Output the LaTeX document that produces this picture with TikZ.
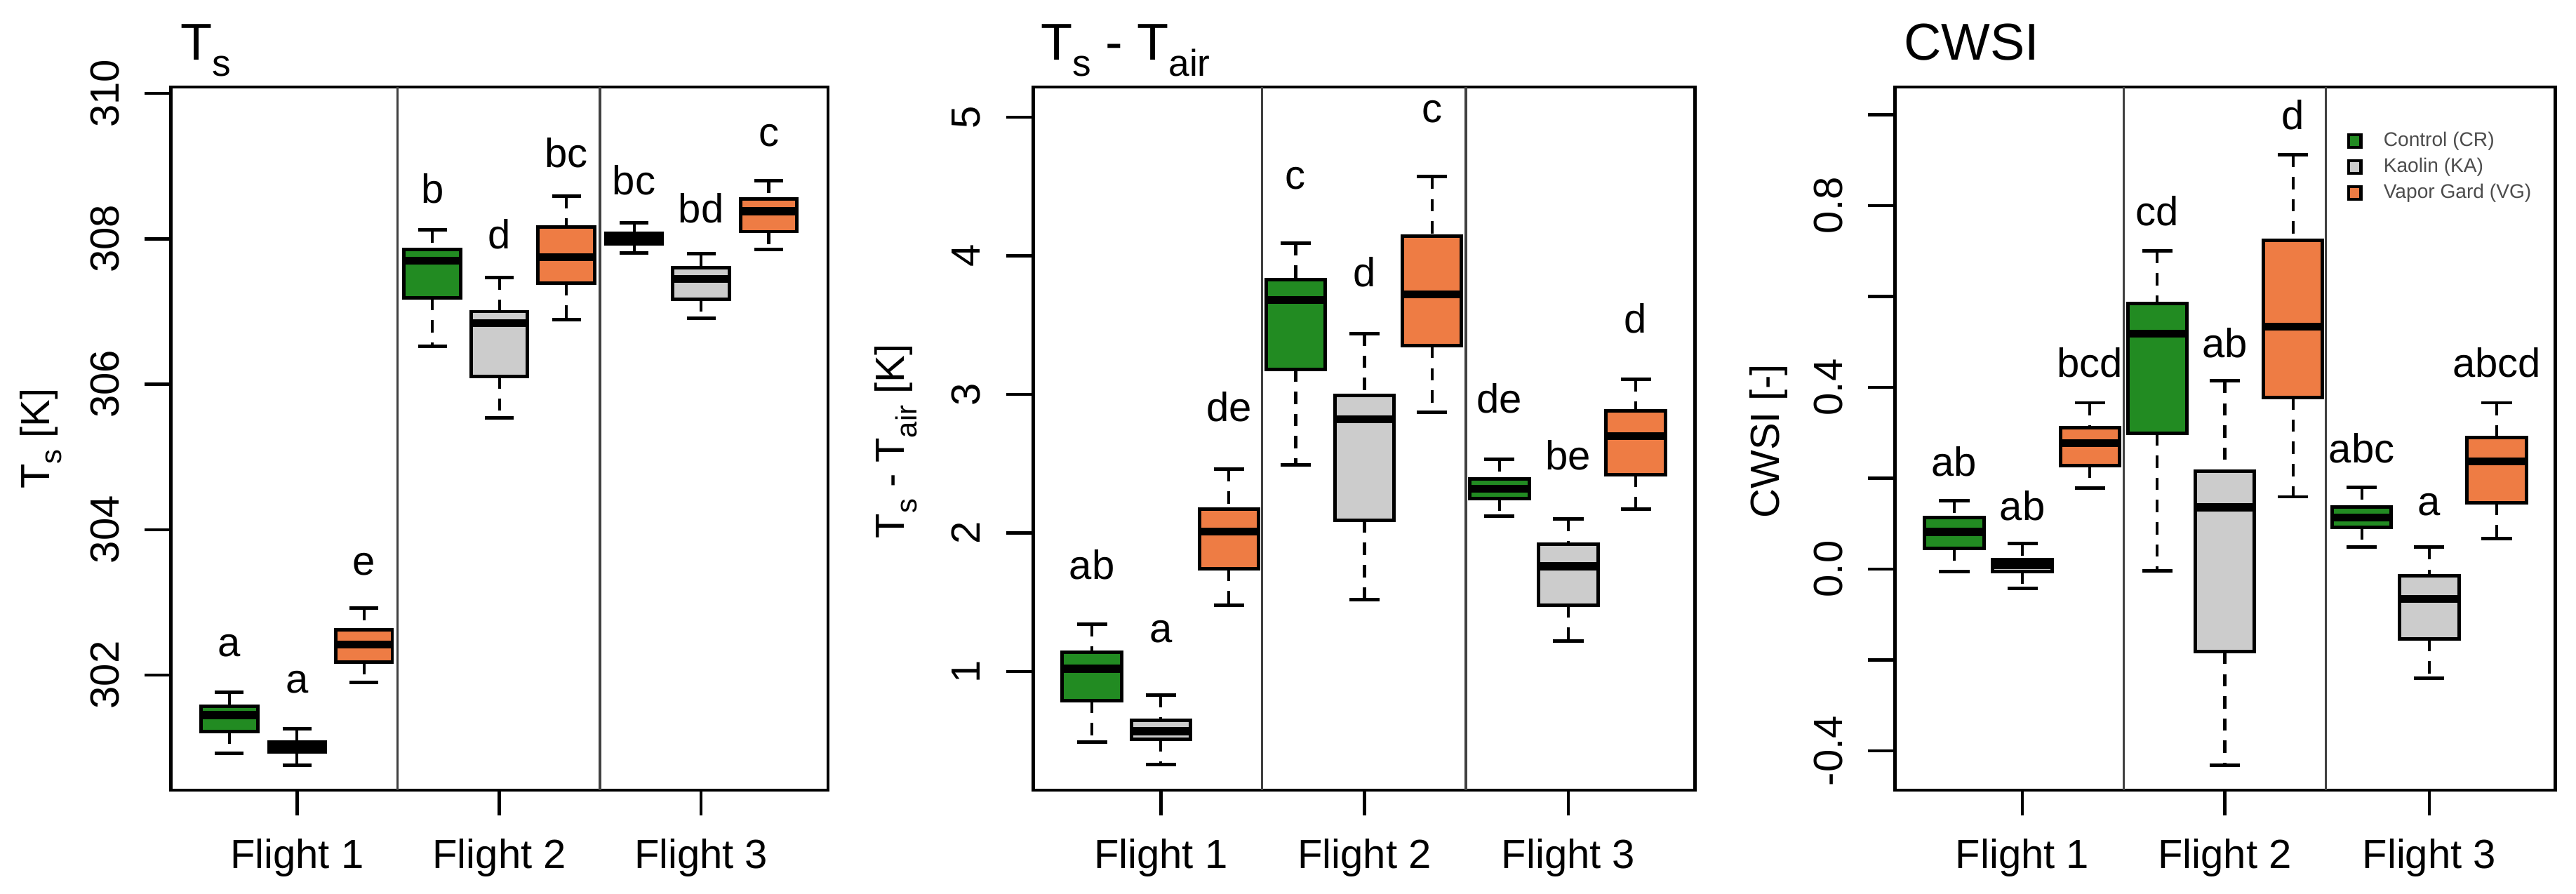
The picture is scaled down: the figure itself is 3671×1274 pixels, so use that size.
\documentclass[tikz,border=0pt]{standalone}
\usepackage{fontspec}
\setmainfont{Liberation Sans}
\definecolor{cgreen}{RGB}{34,139,34}
\definecolor{cgrey}{RGB}{204,204,204}
\definecolor{corange}{RGB}{238,124,68}
\newcommand\sbs[1]{\raisebox{-0.3em}{\fontsize{0.72em}{0.8em}\selectfont #1}}
\newcommand\yy[1]{\A-(#1-\Vo)*\B}
\newcommand\bxp[9]{%
  \draw[whisk] (#1,{\yy{#6}}) -- (#1,{\yy{#5}});
  \draw[whisk] (#1,{\yy{#3}}) -- (#1,{\yy{#2}});
  \draw[capl] ({#1-22},{\yy{#6}}) -- ({#1+22},{\yy{#6}});
  \draw[capl] ({#1-22},{\yy{#2}}) -- ({#1+22},{\yy{#2}});
  \draw[boxl,fill=#7] ({#1-43},{\yy{#3}}) rectangle ({#1+43},{\yy{#5}});
  \draw[medl] ({#1-43},{\yy{#4}}) -- ({#1+43},{\yy{#4}});
  \node[lab] at (#1,{\yy{#9}}) {#8};}
\tikzset{
  whisk/.style={line width=1.2pt,dash pattern=on 5pt off 4pt},
  capl/.style={line width=1.4pt},
  boxl/.style={line width=1.4pt},
  medl/.style={line width=3.2pt},
  lab/.style={font=\fontsize{16.5}{18}\selectfont},
  tickl/.style={font=\fontsize{16.5}{18}\selectfont,rotate=90},
  frame/.style={line width=1.3pt},
  divl/.style={line width=1pt,black!75},
  ttl/.style={font=\fontsize{21}{24}\selectfont,anchor=base west},
  leg/.style={font=\fontsize{8}{9}\selectfont,anchor=west,text=black!70}
}
\begin{document}
\begin{tikzpicture}[x=0.01cm,y=-0.01cm]
\useasboundingbox (0,0) rectangle (3671,1274);
% ---------------- Panel 1
\begin{scope}[xscale=0.9364]
\def\A{962}\def\B{103.6}\def\Vo{302}
\node[ttl] (t1) at (262,86) {T\sbs{s}};
\draw[frame] (260,124) rectangle (1260,1126);
\draw[divl] (605,124) -- (605,1126);
\draw[divl] (913,124) -- (913,1126);
\foreach \v in {302,304,306,308,310}{
  \draw[frame] (220,{\yy{\v}}) -- (260,{\yy{\v}});
  \node[tickl] at (160,{\yy{\v}}) {\v};}
\node[lab,rotate=90] (yl1) at (62,625) {T\sbs{s} [K]};
\foreach \x/\n in {452/1,760/2,1067/3}{
  \draw[frame] (\x,1126) -- (\x,1162);
  \node[lab] (f1\n) at (\x,1223) {Flight \n};}
\bxp{349}{300.92}{301.22}{301.45}{301.57}{301.76}{cgreen}{a}{302.4}
\bxp{452}{300.76}{300.94}{301.0}{301.08}{301.26}{cgrey}{a}{301.9}
\bxp{554}{301.9}{302.18}{302.42}{302.62}{302.92}{corange}{e}{303.52}
\bxp{658}{306.52}{307.19}{307.7}{307.85}{308.12}{cgreen}{b}{308.69}
\bxp{760}{305.54}{306.11}{306.84}{307.0}{307.47}{cgrey}{d}{308.06}
\bxp{862}{306.89}{307.39}{307.75}{308.16}{308.59}{corange}{bc}{309.18}
\bxp{965}{307.81}{307.93}{308.01}{308.08}{308.22}{cgreen}{bc}{308.81}
\bxp{1067}{306.91}{307.17}{307.45}{307.6}{307.8}{cgrey}{bd}{308.42}
\bxp{1170}{307.85}{308.1}{308.38}{308.55}{308.8}{corange}{c}{309.42}
\end{scope}
% ---------------- Panel 2
\begin{scope}[shift={(22.8,0)},xscale=0.981]
\def\A{957}\def\B{197.5}\def\Vo{1}
\node[ttl] (t2) at (1476,86) {T\sbs{s} - T\sbs{air}};
\draw[frame] (1478,124) rectangle (2439,1126);
\draw[divl] (1810,124) -- (1810,1126);
\draw[divl] (2106,124) -- (2106,1126);
\foreach \v in {1,2,3,4,5}{
  \draw[frame] (1439,{\yy{\v}}) -- (1478,{\yy{\v}});
  \node[tickl] at (1380,{\yy{\v}}) {\v};}
\node[lab,rotate=90] (yl2) at (1278,629) {T\sbs{s} - T\sbs{air} [K]};
\foreach \x/\n in {1663/1,1959/2,2255/3}{
  \draw[frame] (\x,1126) -- (\x,1162);
  \node[lab] (f2\n) at (\x,1223) {Flight \n};}
\bxp{1563}{0.49}{0.79}{1.02}{1.14}{1.34}{cgreen}{ab}{1.77}
\bxp{1663}{0.33}{0.51}{0.57}{0.65}{0.83}{cgrey}{a}{1.29}
\bxp{1762}{1.48}{1.74}{2.01}{2.17}{2.46}{corange}{de}{2.91}
\bxp{1859}{2.49}{3.18}{3.68}{3.83}{4.09}{cgreen}{c}{4.56}
\bxp{1959}{1.52}{2.09}{2.82}{2.99}{3.44}{cgrey}{d}{3.88}
\bxp{2057}{2.87}{3.35}{3.72}{4.14}{4.57}{corange}{c}{5.04}
\bxp{2155}{2.12}{2.25}{2.32}{2.39}{2.53}{cgreen}{de}{2.97}
\bxp{2255}{1.22}{1.48}{1.76}{1.92}{2.10}{cgrey}{be}{2.56}
\bxp{2353}{2.17}{2.42}{2.70}{2.88}{3.11}{corange}{d}{3.55}
\end{scope}
% ---------------- Panel 3
\begin{scope}[shift={(46,0)},xscale=0.981]
\def\A{811}\def\B{647.6}\def\Vo{0}
\node[ttl] (t3) at (2706,86) {CWSI};
\draw[frame] (2706,124) rectangle (3665,1126);
\draw[divl] (3038,124) -- (3038,1126);
\draw[divl] (3332,124) -- (3332,1126);
\foreach \v in {-0.4,-0.2,0.0,0.2,0.4,0.6,0.8,1.0}{
  \draw[frame] (2667,{\yy{\v}}) -- (2706,{\yy{\v}});}
\foreach \v in {-0.4,0.0,0.4,0.8}{
  \node[tickl] at (2609,{\yy{\v}}) {\v};}
\node[lab,rotate=90] (yl3) at (2522,629) {CWSI [-]};
\foreach \x/\n in {2891/1,3185/2,3482/3}{
  \draw[frame] (\x,1126) -- (\x,1162);
  \node[lab] (f3\n) at (\x,1223) {Flight \n};}
\bxp{2792}{-0.006}{0.045}{0.082}{0.113}{0.151}{cgreen}{ab}{0.237}
\bxp{2891}{-0.042}{-0.006}{0.009}{0.021}{0.057}{cgrey}{ab}{0.14}
\bxp{2989}{0.178}{0.228}{0.277}{0.311}{0.366}{corange}{bcd}{0.455}
\bxp{3087}{-0.004}{0.299}{0.518}{0.584}{0.70}{cgreen}{cd}{0.788}
\bxp{3185}{-0.431}{-0.182}{0.136}{0.216}{0.414}{cgrey}{ab}{0.498}
\bxp{3284}{0.159}{0.378}{0.533}{0.723}{0.912}{corange}{d}{1.0}
\bxp{3384}{0.048}{0.092}{0.113}{0.136}{0.18}{cgreen}{abc}{0.266}
\bxp{3482}{-0.24}{-0.154}{-0.066}{-0.015}{0.048}{cgrey}{a}{0.142}
\bxp{3580}{0.067}{0.146}{0.237}{0.29}{0.366}{corange}{abcd}{0.455}
% legend
\foreach \yv/\c/\t/\n in {201/cgreen/Control (CR)/l1,238/cgrey/Kaolin (KA)/l2,275/corange/Vapor Gard (VG)/l3}{
  \draw[line width=1.3pt,fill=\c] (3365,\yv-9) rectangle (3383,\yv+9);
  \node[leg] (\n) at (3403,\yv) {\t};}
\end{scope}
\end{tikzpicture}
\end{document}
